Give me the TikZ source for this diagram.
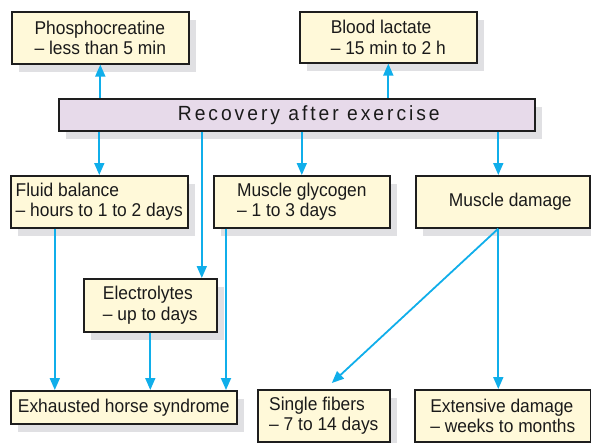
\documentclass[tikz,border=0pt]{standalone}
\usepackage{fontspec}
\setmainfont{Liberation Sans}[FakeStretch=0.94]
\usetikzlibrary{arrows.meta,shadows}
\definecolor{boxfill}{HTML}{FFF9D9}
\definecolor{barfill}{HTML}{E7DAEA}
\definecolor{shade}{HTML}{E0E0E3}
\definecolor{edge}{HTML}{1E1E1E}
\definecolor{flow}{HTML}{10AEEA}
\definecolor{ink}{HTML}{1A1A1A}

\begin{document}
\begin{tikzpicture}[x=1pt,y=-1pt,
  panel/.style={draw=edge, line width=1.6pt, fill=boxfill, text=ink,
    inner sep=0pt, align=left, anchor=north west,
    font=\fontsize{18.5}{20.6}\selectfont,
    general shadow={fill=shade, shadow xshift=7pt, shadow yshift=-8pt}},
  flowline/.style={draw=flow, line width=1.8pt,
    -{Triangle[length=12pt,width=10pt]}}]

\useasboundingbox (0,0) rectangle (591,442);

% boxes
\node[panel, minimum width=177pt, minimum height=52pt] (P) at (11,11)
  {Phosphocreatine\\– less than 5 min};
\node[panel, minimum width=177pt, minimum height=51pt] (B) at (299,11)
  {Blood lactate\\– 15 min to 2 h};
\node[panel, fill=barfill, minimum width=476pt, minimum height=32pt,
  font=\fontsize{20.5}{22}\selectfont\addfontfeature{LetterSpace=14.5}] (R) at (58,98)
  {\hspace*{24pt}Recovery after exercise};
\node[panel, minimum width=177pt, minimum height=52pt] (F) at (10,175)
  {Fluid balance\\– hours to 1 to 2 days};
\node[panel, minimum width=176pt, minimum height=52pt] (G) at (213,175)
  {Muscle glycogen\\– 1 to 3 days};
\node[panel, minimum width=174pt, minimum height=52pt] (D) at (415,175)
  {\hspace*{15pt}Muscle damage};
\node[panel, minimum width=133pt, minimum height=53pt] (E) at (83,278)
  {Electrolytes\\– up to days};
\node[panel, minimum width=226pt, minimum height=33pt] (X) at (10,390)
  {Exhausted horse syndrome};
\node[panel, minimum width=132pt, minimum height=52pt] (S) at (257,389)
  {Single fibers\\– 7 to 14 days};
\node[panel, minimum width=176pt, minimum height=52pt] (T) at (414,389)
  {Extensive damage\\– weeks to months};

% connectors
\draw[flowline] (R.north -| P.south) -- (P.south);
\draw[flowline] (R.north -| B.south) -- (B.south);
\draw[flowline] (R.south -| F.north) -- (F.north);
\draw[flowline] (R.south -| G.north) -- (G.north);
\coordinate (dcol) at ([xshift=-4.5pt]D.south);
\draw[flowline] (R.south -| dcol) -- (D.north -| dcol);
\coordinate (ecol) at ([xshift=51.5pt]E.north);
\draw[flowline] (R.south -| ecol) -- (ecol);
\coordinate (fcol) at ([xshift=-44.5pt]F.south);
\draw[flowline] (fcol) -- (X.north -| fcol);
\draw[flowline] (E.south) -- (X.north -| E.south);
\coordinate (gcol) at ([xshift=13pt]G.south west);
\draw[flowline] (gcol) -- (X.north -| gcol);
\draw[flowline] (dcol) -- ([xshift=8pt,yshift=6pt]S.north);
\draw[flowline] (dcol) -- (T.north -| dcol);
\end{tikzpicture}
\end{document}
